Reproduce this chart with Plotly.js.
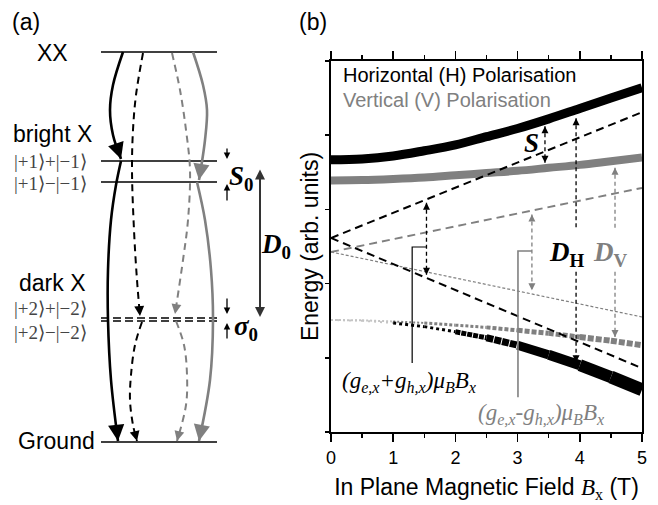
<!DOCTYPE html>
<html><head><meta charset="utf-8">
<script src="https://cdn.plot.ly/plotly-3.0.1.min.js"></script>
<style>html,body{margin:0;padding:0;background:#fff}#chart{width:658px;height:505px}</style>
</head><body><div id="chart"></div>
<script>
// ================= panel (b) data (arb. units vs field in T) =================
const fieldT   = [0, 0.5, 1, 1.5, 2, 2.5, 3, 3.5, 4, 4.5, 5];
const hUpper   = [3.67, 3.68, 3.72, 3.79, 3.87, 3.98, 4.09, 4.22, 4.36, 4.50, 4.64];
const vUpper   = [3.39, 3.395, 3.41, 3.43, 3.46, 3.49, 3.52, 3.56, 3.60, 3.65, 3.70];
const hLower   = [1.51, 1.50, 1.47, 1.42, 1.35, 1.27, 1.17, 1.04, 0.90, 0.74, 0.57];
const vLower   = [1.51, 1.505, 1.49, 1.47, 1.44, 1.41, 1.37, 1.33, 1.28, 1.23, 1.17];
const fieldEnds   = [0, 5];
const hZeemanUp   = [2.615, 4.31];
const hZeemanDown = [2.615, 0.86];
const vZeemanUp   = [2.426, 3.29];
const vZeemanDown = [2.426, 1.55];
const xTickVals = [0, 1, 2, 3, 4, 5];
const xTickText = ['0', '1', '2', '3', '4', '5'];
const yTickVals = [0, 1, 2, 3, 4, 5];
// splittings: field, upper energy, lower energy
const splitS  = [3.44, 4.12, 3.63];
const splitDH = [3.94, 4.23, 0.94];
const splitDV = [4.566, 3.56, 1.28];
const splitHZ = [1.535, 3.09, 2.12];
const splitVZ = [3.23, 2.93, 1.91];

// ================= panel (a) data (level scheme, diagram units, downward) =================
const levelNames = ['XX', 'bright +', 'bright -', 'dark +', 'dark -', 'Ground'];
const levelE     = [52, 161, 182, 318, 321, 442];
const levelSpan  = [101, 217];
const bs1X = [123, 113, 110, 113, 121],            bs1Y = [52, 85, 110, 135, 159];
const bs2X = [121, 116, 111, 108, 108, 111, 118],  bs2Y = [161, 185, 220, 270, 320, 380, 441];
const bd1X = [143, 136, 133, 132, 134, 137, 140],  bd1Y = [53, 95, 130, 170, 230, 280, 316];
const bd2X = [142, 135, 131, 130, 133, 137],       bd2Y = [322, 345, 375, 400, 425, 441];
const gd1X = [172, 180, 186, 190, 188, 183, 175],  gd1Y = [53, 90, 130, 170, 220, 260, 314];
const gd2X = [176, 184, 187, 186, 177],            gd2Y = [321, 345, 375, 405, 441];
const gs1X = [193, 203, 207, 205, 199],            gs1Y = [52, 85, 110, 140, 180];
const gs2X = [197, 205, 211, 213, 210, 199],       gs2Y = [182, 220, 270, 320, 380, 441];

const BLACK = '#000000', GRAY = '#808080', LIGHT = '#c4c4c4';
const SANS = 'Liberation Sans, Arial, sans-serif';
const SERIF = 'Liberation Serif, Times New Roman, serif';

const traces = [];
const annotations = [];

// ---------- panel (b) ----------
traces.push({x: fieldT, y: hUpper, mode: 'lines', line: {color: BLACK, width: 9, shape: 'spline'}, hoverinfo: 'skip'});
traces.push({x: fieldT, y: vUpper, mode: 'lines', line: {color: GRAY, width: 8, shape: 'spline'}, hoverinfo: 'skip'});
const hW = [2, 2, 3, 3, 5, 7, 9, 10, 12, 13];
const vW = [2, 2, 2, 3, 3, 4, 5, 5, 6, 6];
for (let i = 0; i < fieldT.length - 1; i++) {
  const w = vW[i];
  traces.push({x: fieldT.slice(i, i + 2), y: vLower.slice(i, i + 2), mode: 'lines',
    line: {color: i < 2 ? LIGHT : GRAY, width: w, dash: (w + 'px,' + Math.max(2, Math.round(w / 2.5)) + 'px')}, hoverinfo: 'skip'});
}
for (let i = 0; i < fieldT.length - 1; i++) {
  const w = hW[i];
  const dash = i < 4 ? (w + 'px,' + (i < 2 ? 4 : 3) + 'px') : (i < 6 ? (w + 'px,1px') : 'solid');
  traces.push({x: fieldT.slice(i, i + 2), y: hLower.slice(i, i + 2), mode: 'lines',
    line: {color: i < 2 ? LIGHT : BLACK, width: w, dash: dash}, hoverinfo: 'skip'});
}
traces.push({x: fieldEnds, y: vZeemanDown, mode: 'lines', line: {color: GRAY, width: 1.2, dash: '3px,2px'}, hoverinfo: 'skip'});
traces.push({x: fieldEnds, y: vZeemanUp, mode: 'lines', line: {color: GRAY, width: 2, dash: '8px,5px'}, hoverinfo: 'skip'});
traces.push({x: fieldEnds, y: hZeemanUp, mode: 'lines', line: {color: BLACK, width: 2, dash: '8px,5px'}, hoverinfo: 'skip'});
traces.push({x: fieldEnds, y: hZeemanDown, mode: 'lines', line: {color: BLACK, width: 2, dash: '8px,5px'}, hoverinfo: 'skip'});

function splitArrow(s, color, gap) {
  const ys = gap ? [s[1], gap[0], null, gap[1], s[2]] : [s[1], s[2]];
  traces.push({x: ys.map(() => s[0]), y: ys, mode: 'lines', connectgaps: false,
    line: {color: color, width: 1.3, dash: '4px,3px'}, hoverinfo: 'skip'});
  annotations.push({x: s[0], y: s[1], xref: 'x', yref: 'y', ax: 0, ay: 8, text: '', showarrow: true,
    arrowhead: 2, arrowsize: 1, arrowwidth: 1.4, arrowcolor: color});
  annotations.push({x: s[0], y: s[2], xref: 'x', yref: 'y', ax: 0, ay: -8, text: '', showarrow: true,
    arrowhead: 2, arrowsize: 1, arrowwidth: 1.4, arrowcolor: color});
}
splitArrow(splitS, BLACK);
splitArrow(splitDH, BLACK, [2.72, 2.16]);
splitArrow(splitDV, GRAY, [2.72, 2.16]);
splitArrow(splitHZ, BLACK);
splitArrow(splitVZ, GRAY);
traces.push({x: [splitHZ[0], 1.305, 1.305], y: [2.493, 2.493, 0.93], mode: 'lines', line: {color: BLACK, width: 1.2}, hoverinfo: 'skip'});
traces.push({x: [splitVZ[0], 3.006, 3.006], y: [2.44, 2.44, 0.47], mode: 'lines', line: {color: GRAY, width: 1.6}, hoverinfo: 'skip'});

annotations.push({x: 0.16, y: 4.81, xref: 'x', yref: 'y', xanchor: 'left', yanchor: 'middle', showarrow: false,
  text: 'Horizontal (H) Polarisation', font: {family: SANS, size: 20, color: BLACK}});
annotations.push({x: 0.16, y: 4.48, xref: 'x', yref: 'y', xanchor: 'left', yanchor: 'middle', showarrow: false,
  text: 'Vertical (V) Polarisation', font: {family: SANS, size: 20, color: GRAY}});
annotations.push({x: 3.22, y: 3.90, xref: 'x', yref: 'y', showarrow: false,
  text: '<b><i>S</i></b>', font: {family: SERIF, size: 27, color: BLACK}});
annotations.push({x: 3.79, y: 2.40, xref: 'x', yref: 'y', showarrow: false,
  text: '<b><i>D</i><sub>H</sub></b>', font: {family: SERIF, size: 27, color: BLACK}});
annotations.push({x: 4.50, y: 2.40, xref: 'x', yref: 'y', showarrow: false,
  text: '<b><i>D</i><sub>V</sub></b>', font: {family: SERIF, size: 27, color: GRAY}});
annotations.push({x: 1.26, y: 0.68, xref: 'x', yref: 'y', showarrow: false,
  text: '<i>(g<sub>e,x</sub>+g<sub>h,x</sub>)μ<sub>B</sub>B<sub>x</sub></i>', font: {family: SERIF, size: 23, color: BLACK}});
annotations.push({x: 3.38, y: 0.24, xref: 'x', yref: 'y', showarrow: false,
  text: '<i>(g<sub>e,x</sub>-g<sub>h,x</sub>)μ<sub>B</sub>B<sub>x</sub></i>', font: {family: SERIF, size: 23, color: GRAY}});

// ---------- panel (a) ----------
levelE.forEach((e, i) => {
  const dark = levelNames[i].indexOf('dark') === 0;
  traces.push({x: levelSpan, y: [e, e], xaxis: 'x2', yaxis: 'y2', mode: 'lines',
    line: {color: BLACK, width: 1.6, dash: dark ? '8px,4px' : 'solid'}, hoverinfo: 'skip'});
});
function transition(xs, ys, color, dashed, big) {
  traces.push({x: xs, y: ys, xaxis: 'x2', yaxis: 'y2', mode: 'lines',
    line: {color: color, width: dashed ? 2 : 2.6, dash: dashed ? '7px,5px' : 'solid', shape: 'spline'}, hoverinfo: 'skip'});
  const n = xs.length, tx = xs[n - 1], ty = ys[n - 1];
  const dx = xs[n - 2] - tx, dy = ys[n - 2] - ty, L = Math.hypot(dx, dy), back = big ? 14 : 10;
  annotations.push({x: tx, y: ty, xref: 'x2', yref: 'y2', axref: 'x2', ayref: 'y2',
    ax: tx + dx / L * back, ay: ty + dy / L * back, text: '', showarrow: true,
    arrowhead: 2, arrowsize: big ? 1.25 : 1.1, arrowwidth: big ? 2.6 : 1.8, arrowcolor: color});
}
transition(bs1X, bs1Y, BLACK, false, true);
transition(bs2X, bs2Y, BLACK, false, true);
transition(bd1X, bd1Y, BLACK, true, false);
transition(bd2X, bd2Y, BLACK, true, false);
transition(gd1X, gd1Y, GRAY, true, false);
transition(gd2X, gd2Y, GRAY, true, false);
transition(gs1X, gs1Y, GRAY, false, true);
transition(gs2X, gs2Y, GRAY, false, true);

function smallArrow(x, yTip, yTail, color, w) {
  annotations.push({x: x, y: yTip, xref: 'x2', yref: 'y2', axref: 'x2', ayref: 'y2', ax: x, ay: yTail,
    text: '', showarrow: true, arrowhead: 2, arrowsize: 1, arrowwidth: w || 1.3, arrowcolor: color || BLACK});
}
smallArrow(227, levelE[1] - 2, levelE[1] - 14);
smallArrow(227, levelE[2] + 2, levelE[2] + 20);
smallArrow(227, levelE[3] - 4, levelE[3] - 21);
smallArrow(227, levelE[4] + 2, levelE[4] + 19);
annotations.push({x: 260, y: levelE[4] - 4, xref: 'x2', yref: 'y2', axref: 'x2', ayref: 'y2', ax: 260, ay: levelE[1] + 7,
  text: '', showarrow: true, arrowside: 'end+start', arrowhead: 2, startarrowhead: 2, arrowsize: 1, startarrowsize: 1,
  arrowwidth: 2, arrowcolor: '#333333'});

function label2(x, y, text, font) {
  annotations.push({x: x, y: y, xref: 'x2', yref: 'y2', showarrow: false, text: text, font: font});
}
const labFont = {family: SANS, size: 23, color: BLACK};
const ketFont = {family: SERIF, size: 19, color: '#444444'};
label2(52, 53, 'XX', labFont);
label2(52, 134, 'bright X', labFont);
label2(50, 161, '|+1⟩+|−1⟩', ketFont);
label2(50, 183, '|+1⟩−|−1⟩', ketFont);
label2(52, 283, 'dark X', labFont);
label2(50, 308, '|+2⟩+|−2⟩', ketFont);
label2(50, 332, '|+2⟩−|−2⟩', ketFont);
label2(56, 441, 'Ground', labFont);
label2(241, 178, '<b><i>S</i><sub>0</sub></b>', {family: SERIF, size: 27, color: BLACK});
label2(276, 246, '<b><i>D</i><sub>0</sub></b>', {family: SERIF, size: 27, color: BLACK});
label2(246, 328, '<b><i>σ</i><sub>0</sub></b>', {family: SERIF, size: 27, color: BLACK});

annotations.push({x: 26 / 658, y: 1 - 22 / 505, xref: 'paper', yref: 'paper', xanchor: 'center', yanchor: 'middle',
  showarrow: false, text: '(a)', font: labFont});
annotations.push({x: 313 / 658, y: 1 - 22 / 505, xref: 'paper', yref: 'paper', xanchor: 'center', yanchor: 'middle',
  showarrow: false, text: '(b)', font: labFont});

const layout = {
  width: 658, height: 505,
  margin: {l: 0, r: 0, t: 0, b: 0},
  paper_bgcolor: '#ffffff', plot_bgcolor: 'rgba(0,0,0,0)',
  showlegend: false,
  xaxis: {
    domain: [331 / 658, 642 / 658], range: [0, 5], tickmode: 'array', tickvals: xTickVals, ticktext: xTickText,
    ticks: 'outside', ticklen: 8, tickwidth: 1.5, tickcolor: BLACK,
    minor: {tickmode: 'linear', tick0: 0, dtick: 0.5, ticks: 'outside', ticklen: 4, tickwidth: 1.5, tickcolor: BLACK},
    showline: true, linewidth: 2, linecolor: BLACK, mirror: 'ticks', showgrid: false, zeroline: false,
    tickfont: {family: SANS, size: 18, color: BLACK},
    title: {text: 'In Plane Magnetic Field <span style="font-family:Liberation Serif"><i>B</i><sub>x</sub></span> (T)',
      font: {family: SANS, size: 23, color: BLACK}, standoff: 12}
  },
  yaxis: {
    domain: [(505 - 432) / 505, (505 - 61) / 505], range: [0, 5], tickmode: 'array', tickvals: yTickVals,
    showticklabels: false, ticks: 'outside', ticklen: 4, tickwidth: 1.5, tickcolor: BLACK,
    showline: true, linewidth: 2, linecolor: BLACK, mirror: true, showgrid: false, zeroline: false,
    title: {text: 'Energy (arb. units)', font: {family: SANS, size: 23, color: BLACK}, standoff: 0}
  },
  xaxis2: {domain: [0, 328 / 658], range: [0, 328], visible: false, anchor: 'y2'},
  yaxis2: {domain: [0, 1], range: [505, 0], visible: false, anchor: 'x2'},
  annotations: annotations
};
Plotly.newPlot('chart', traces, layout, {staticPlot: true, displayModeBar: false});
</script>
</body></html>
